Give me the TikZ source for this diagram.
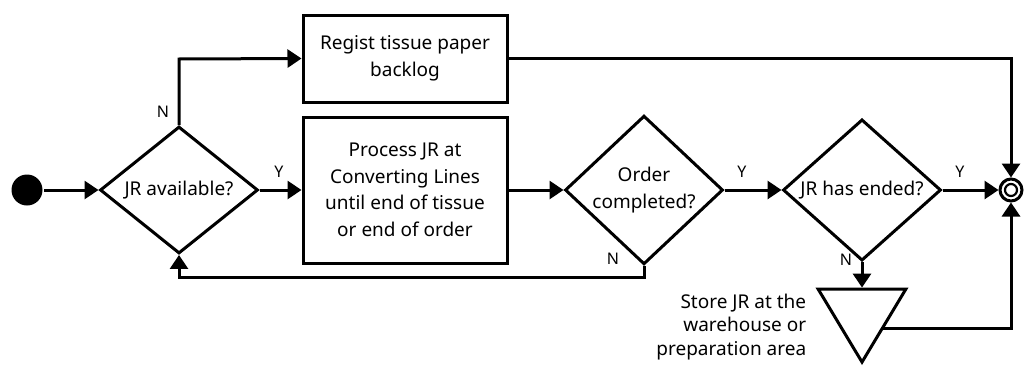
\documentclass[tikz,border=0pt]{standalone}
\usepackage{fontspec}
\setmainfont{Noto Sans}
\usetikzlibrary{arrows.meta,shapes.geometric}
\begin{document}
\begin{tikzpicture}[x=1pt,y=-1pt,
  line width=3pt,
  font=\fontsize{19}{26.5}\selectfont,
  flow/.style={-{Triangle[length=14pt,width=18pt]}, line join=miter},
  procbox/.style={draw, rectangle, minimum width=204pt, align=center, inner sep=0pt},
  decision/.style={draw, diamond, minimum width=158pt, minimum height=116pt, inner sep=0pt, align=center},
  lbl/.style={font=\fontsize{16}{18}\selectfont, inner sep=0pt}]
\useasboundingbox (0,0) rectangle (1024,367);

% start and end
\node[circle, fill=black, minimum size=31pt, inner sep=0pt] (start) at (27,190) {};
\node[circle, draw, minimum size=22pt, inner sep=0pt] (end) at (1011,190) {};
\draw[line width=2.2pt] (end.center) circle (6pt);

% decisions
\node[decision] (avail) at (179,190) {JR available?};
\node[decision] (order) at (644,190) {Order\\completed?};
\node[decision] (ended) at (862,190) {JR has ended?};

% activities
\node[procbox, minimum height=87pt] (regist) at (405,58.5) {Regist tissue paper\\backlog};
\node[procbox, minimum height=146pt] (process) at (405,190) {Process JR at\\Converting Lines\\until end of tissue\\or end of order};

% storage triangle
\node[draw, isosceles triangle, shape border rotate=-90, isosceles triangle apex angle=62,
      minimum height=73pt, inner sep=0pt, anchor=apex] (store) at (862,365) {};
\node[anchor=east, align=right, font=\fontsize{19}{23.5}\selectfont] (storetxt) at (811,327) {Store JR at the\\warehouse or\\preparation area};

% branch labels
\node[lbl] (yAvail) at (279,172) {Y};
\node[lbl] (nAvail) at (163,112) {N};
\node[lbl] (yOrder) at (742,172) {Y};
\node[lbl] (nOrder) at (613,259) {N};
\node[lbl] (yEnded) at (960,172) {Y};
\node[lbl] (nEnded) at (846,260) {N};

% connectors
\draw[flow] (start) -- (avail.west);
\draw[flow] (avail.east) -- (process.west);
\coordinate (upN) at (179,59);
\draw[flow] (avail.north) -- (upN) -- (regist.west);
\draw[flow] (process.east) -- (order.west);
\draw[flow] (order.east) -- (ended.west);
\coordinate (loopR) at (644,277);
\coordinate (loopL) at (179,277);
\draw[flow] (order.south) -- (loopR) -- (loopL) -- (avail.south);
\draw[flow] (ended.east) -- (end.west);
\draw[flow] (ended.south) -- (store.north);
\coordinate (topR) at (1011,58.5);
\draw[flow] (regist.east) -- (topR) -- (end.north);
\coordinate (botL) at (881,328);
\coordinate (botR) at (1011,328);
\draw[flow] (botL) -- (botR) -- (end.south);
\end{tikzpicture}
\end{document}
